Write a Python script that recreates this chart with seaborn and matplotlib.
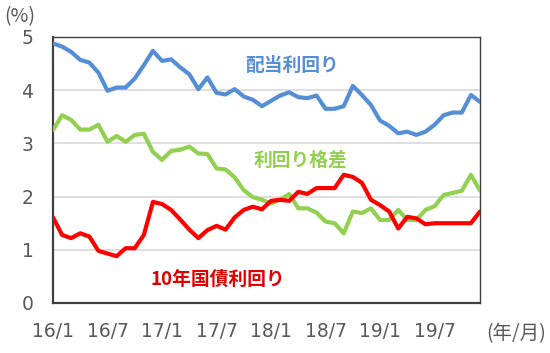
import numpy as np
import pandas as pd
import matplotlib
matplotlib.use("Agg")
import matplotlib.pyplot as plt
import seaborn as sns

months = pd.date_range("2016-01-01", periods=48, freq="MS")
tick_labels = ["16/1", "16/7", "17/1", "17/7", "18/1", "18/7", "19/1", "19/7"]

dividend_yield = [4.88, 4.82, 4.72, 4.57, 4.52, 4.33, 3.99, 4.05, 4.05, 4.22, 4.47, 4.74,
                  4.55, 4.58, 4.43, 4.30, 4.02, 4.24, 3.95, 3.92, 4.02, 3.88, 3.82, 3.70,
                  3.80, 3.90, 3.96, 3.87, 3.85, 3.90, 3.65, 3.65, 3.70, 4.08, 3.91, 3.72,
                  3.43, 3.33, 3.19, 3.22, 3.16, 3.22, 3.35, 3.53, 3.58, 3.58, 3.91, 3.78]
yield_spread = [3.25, 3.53, 3.44, 3.26, 3.26, 3.35, 3.03, 3.14, 3.03, 3.16, 3.18, 2.84,
                2.69, 2.86, 2.88, 2.94, 2.81, 2.80, 2.53, 2.51, 2.36, 2.12, 1.99, 1.94,
                1.87, 1.94, 2.05, 1.78, 1.78, 1.70, 1.53, 1.50, 1.31, 1.72, 1.69, 1.78,
                1.56, 1.56, 1.75, 1.56, 1.56, 1.75, 1.82, 2.03, 2.07, 2.11, 2.41, 2.11]
bond_yield = [1.61, 1.28, 1.22, 1.31, 1.25, 0.98, 0.93, 0.88, 1.03, 1.03, 1.28, 1.90,
              1.86, 1.75, 1.57, 1.38, 1.22, 1.37, 1.45, 1.38, 1.61, 1.75, 1.81, 1.76,
              1.92, 1.94, 1.92, 2.09, 2.05, 2.16, 2.16, 2.16, 2.41, 2.37, 2.26, 1.94,
              1.84, 1.72, 1.40, 1.62, 1.59, 1.48, 1.50, 1.50, 1.50, 1.50, 1.50, 1.72]

series_names = ["配当利回り", "利回り格差", "10年国債利回り"]
colors = ["#558ED5", "#92D050", "#FF0000"]

idx = np.arange(len(months))
df = pd.DataFrame({
    "i": np.concatenate([idx, idx, idx]),
    "value": dividend_yield + yield_spread + bond_yield,
    "series": np.repeat(series_names, len(months)),
})

sns.set_style("white")
plt.rcParams['font.family'] = ['Noto Sans CJK JP', 'DejaVu Sans']

fig = plt.figure(figsize=(5.5, 3.53), dpi=100)
ax = fig.add_axes([53/550, 50/353, 427/550, 266/353])

sns.lineplot(data=df, x="i", y="value", hue="series", palette=dict(zip(series_names, colors)),
             linewidth=3.0, legend=False, ax=ax, zorder=3)

ax.set_xlim(0, 47)
ax.set_ylim(0, 5)
ax.set_yticks([0, 1, 2, 3, 4, 5])
ax.set_xticks(np.arange(0, 48, 6))
ax.set_xticklabels(tick_labels)
ax.set_xlabel("")
ax.set_ylabel("")
ax.yaxis.grid(True, color="#D9D9D9", linewidth=1.2)
ax.xaxis.grid(False)
ax.set_axisbelow(True)
for s in ["left", "bottom"]:
    ax.spines[s].set_color("#404040")
    ax.spines[s].set_linewidth(1.6)
for s in ["top", "right"]:
    ax.spines[s].set_color("#404040")
    ax.spines[s].set_linewidth(1.0)
ax.tick_params(axis="y", direction="in", length=6, width=1.4, color="#404040",
               labelsize=13.5, labelcolor="#595959", pad=14)
ax.tick_params(axis="x", length=0, labelsize=13.5, labelcolor="#595959", pad=14)
for lab in ax.get_xticklabels() + ax.get_yticklabels():
    lab.set_family(['DejaVu Sans'])

fig.text(20/550, 1 - 17/353, "(%)", ha="center", va="center", fontsize=14, color="#595959")
fig.text(516/550, 1 - 334/353, "(年/月)", ha="center", va="center", fontsize=14, color="#595959")

fig.text(292/550, 1 - 65/353, series_names[0], ha="center", va="center",
         fontsize=13.5, fontweight="bold", color=colors[0])
fig.text(300/550, 1 - 160/353, series_names[1], ha="center", va="center",
         fontsize=13.5, fontweight="bold", color=colors[1])
fig.text(218/550, 1 - 279/353, series_names[2], ha="center", va="center",
         fontsize=13.5, fontweight="bold", color="#E00000")

fig.savefig("out.png", dpi=100)
